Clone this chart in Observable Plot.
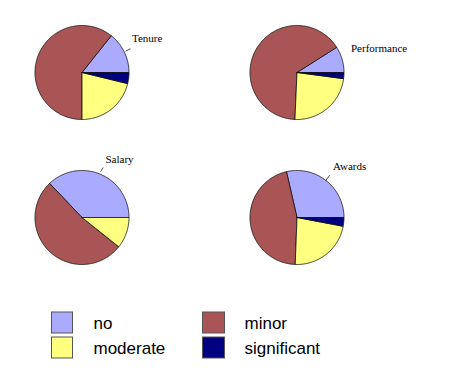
<!DOCTYPE html>
<html>
<head>
<meta charset="utf-8">
<script src="https://cdn.jsdelivr.net/npm/d3@7"></script>
<script src="https://cdn.jsdelivr.net/npm/@observablehq/plot@0.6"></script>
<style>
  html, body { margin: 0; padding: 0; background: #fff; }
</style>
</head>
<body>
<div id="chart"></div>
<script>
// ---- data (percent of each pie) ----
const charts = ["Tenure", "Performance", "Salary", "Awards"];
const categories = ["no", "minor", "moderate", "significant"];
const noVals          = [14.3,  9.0, 37.1, 28.6];
const minorVals       = [60.7, 65.3, 52.2, 45.8];
const moderateVals    = [21.2, 23.6, 10.7, 22.6];
const significantVals = [ 3.8,  2.1,  0.0,  3.0];
const colors = ["#aaaaff", "#aa5555", "#ffff80", "#000080"];
const legendOrder = ["no", "moderate", "minor", "significant"];

// ---- layout ----
const W = 450, H = 378, R = 47;
const centers = {
  Tenure: [81.5, 72], Performance: [296.5, 72],
  Salary: [81.5, 217], Awards: [296.5, 217]
};
const labelPos = {
  Tenure: [131.5, 37.5], Performance: [350.5, 48.2],
  Salary: [105, 158.8], Awards: [332.5, 165.8]
};
const leaders = [
  {x1: 125, y1: 50.7, x2: 130, y2: 48.3},
  {x1: 100, y1: 171.3, x2: 102.7, y2: 167},
  {x1: 325, y1: 180.3, x2: 329.3, y2: 174.7}
];

const series = {no: noVals, minor: minorVals, moderate: moderateVals, significant: significantVals};

// build slice outlines (counter-clockwise from 3 o'clock)
const pts = [];
charts.forEach((c, i) => {
  const [cx, cy] = centers[c];
  let acc = 0;
  categories.forEach(cat => {
    const v = series[cat][i];
    if (v <= 0) return;
    const a0 = acc / 100 * 2 * Math.PI;
    acc += v;
    const a1 = acc / 100 * 2 * Math.PI;
    const key = c + "-" + cat;
    pts.push({key, cat, x: cx, y: cy});
    const n = Math.max(2, Math.ceil((a1 - a0) / (Math.PI / 180)));
    for (let k = 0; k <= n; k++) {
      const a = a0 + (a1 - a0) * k / n;
      pts.push({key, cat, x: cx + R * Math.cos(a), y: cy - R * Math.sin(a)});
    }
    pts.push({key, cat, x: cx, y: cy});
  });
});

const labels = charts.map(c => ({name: c, x: labelPos[c][0], y: labelPos[c][1]}));

// legend
const legendCols = [[51.5, 72.5, 93], [202.5, 224.5, 244]];
const legendRows = [[312, 333, 323], [337, 358, 348]];
const legend = legendOrder.map((cat, j) => {
  const col = legendCols[j < 2 ? 0 : 1];
  const row = legendRows[j % 2];
  return {cat, x1: col[0], x2: col[1], tx: col[2], y1: row[0], y2: row[1], ty: row[2]};
});

const plot = Plot.plot({
  width: W, height: H, margin: 0,
  x: {domain: [0, W], range: [0, W], axis: null},
  y: {domain: [0, H], range: [0, H], axis: null},
  color: {domain: categories, range: colors},
  style: {background: "#fff"},
  marks: [
    Plot.line(pts, {x: "x", y: "y", z: "key", fill: "cat", stroke: "#111", strokeWidth: 0.8, strokeLinejoin: "round"}),
    Plot.link(leaders, {x1: "x1", y1: "y1", x2: "x2", y2: "y2", stroke: "#222", strokeWidth: 0.8}),
    Plot.text(labels, {x: "x", y: "y", text: "name", textAnchor: "start", fontFamily: "'Liberation Serif', 'Times New Roman', serif", fontSize: 11, fill: "#000"}),
    Plot.rect(legend, {x1: "x1", x2: "x2", y1: "y1", y2: "y2", fill: "cat", stroke: "#555", strokeWidth: 1}),
    Plot.text(legend, {x: "tx", y: "ty", text: "cat", textAnchor: "start", fontFamily: "'Liberation Sans', Arial, sans-serif", fontSize: 17, fill: "#000"})
  ]
});
document.getElementById("chart").appendChild(plot);
</script>
</body>
</html>
